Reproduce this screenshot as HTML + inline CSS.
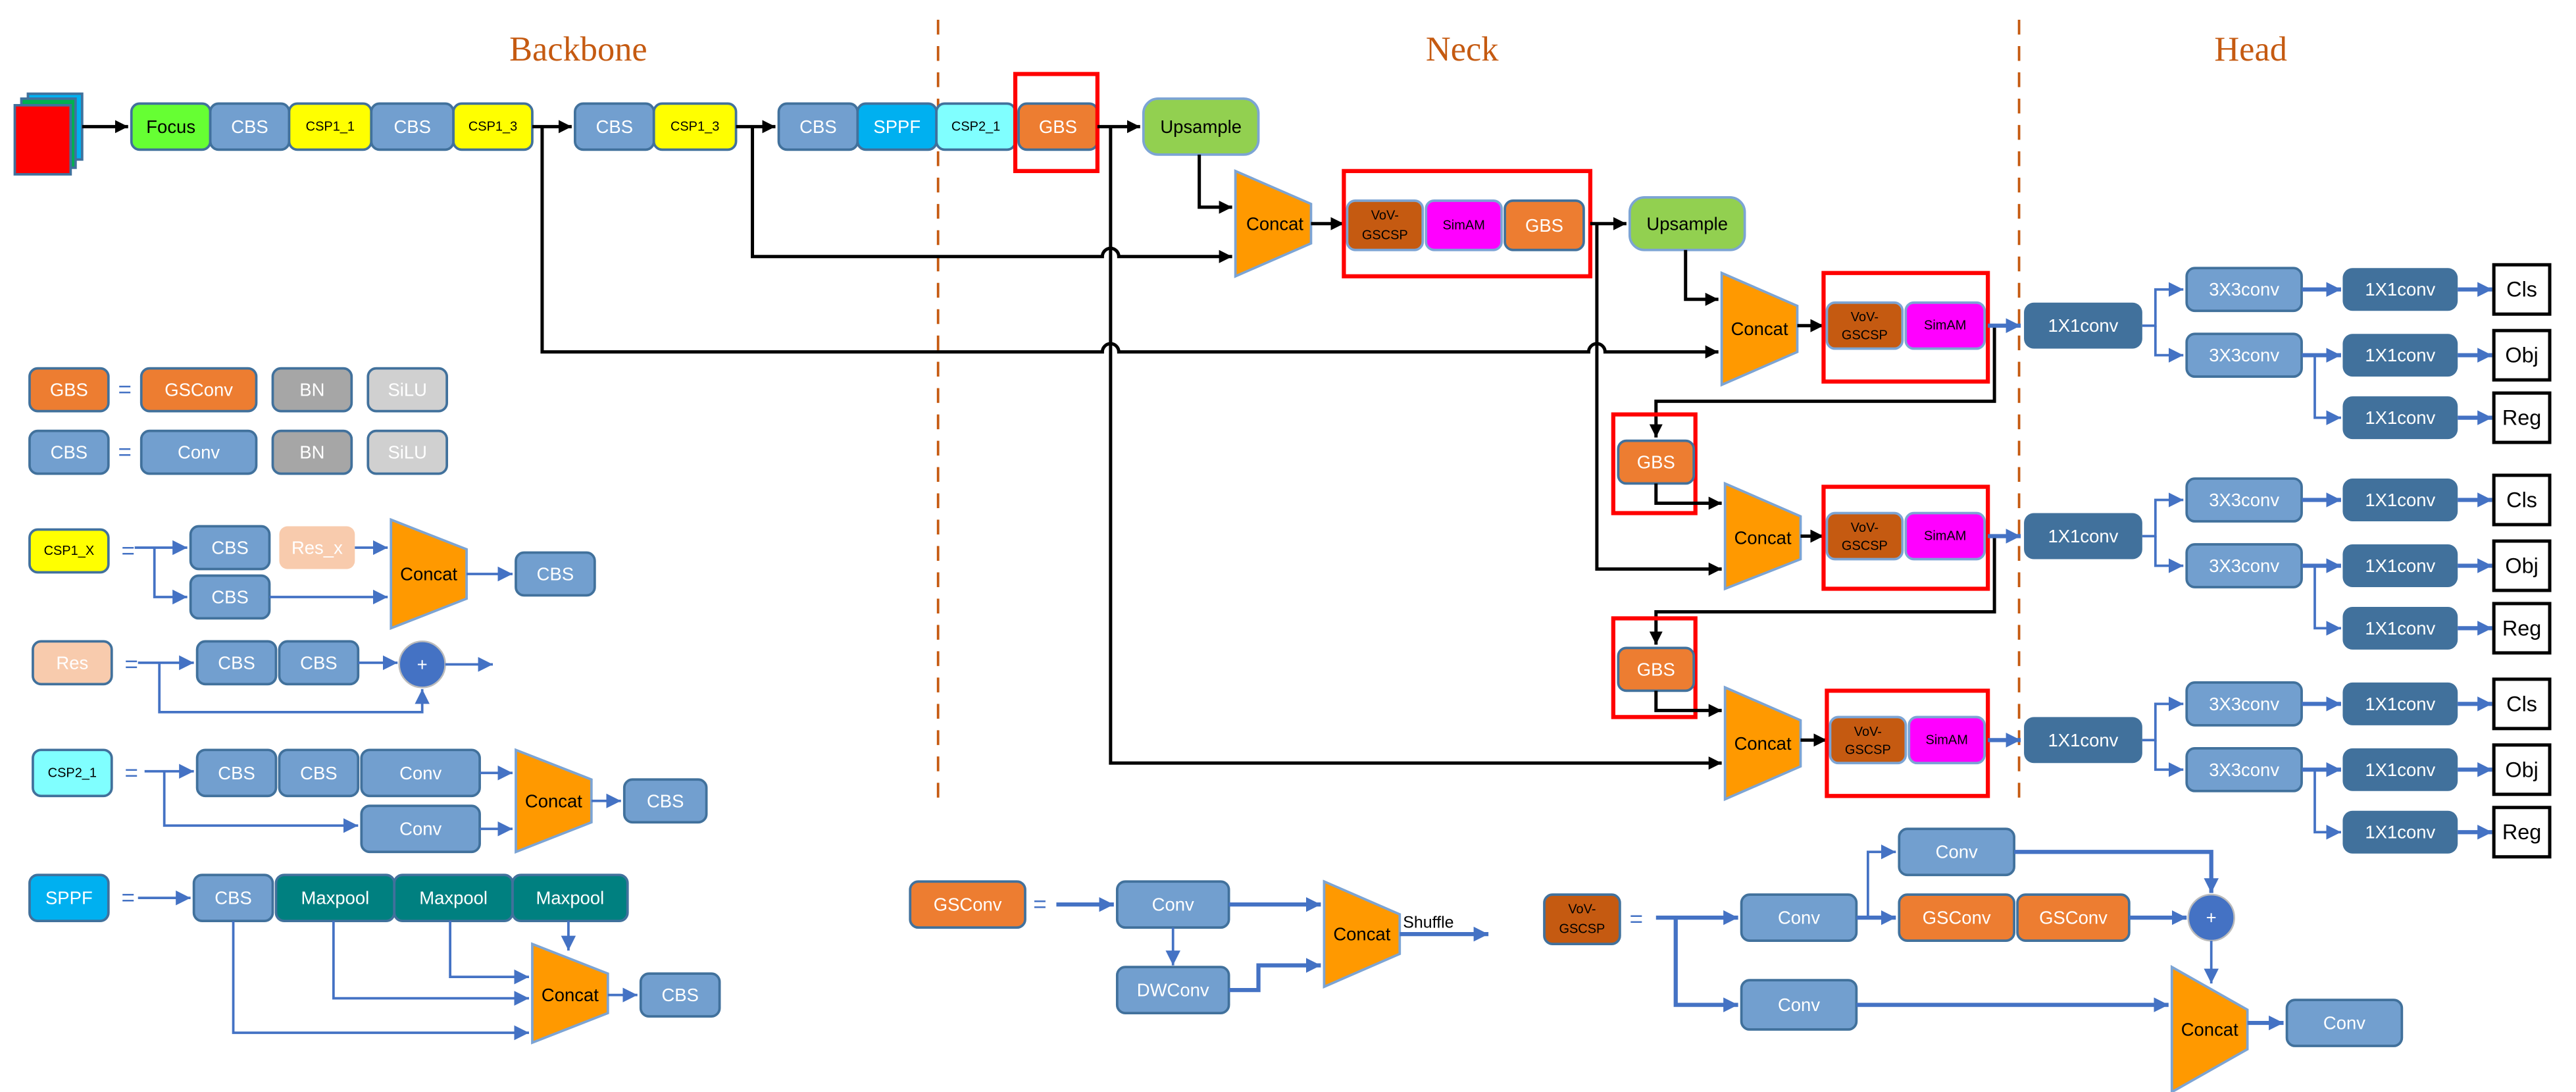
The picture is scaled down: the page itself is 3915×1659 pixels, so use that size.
<!DOCTYPE html>
<html><head><meta charset="utf-8"><style>
html,body{margin:0;padding:0;background:#fff;}
svg{display:block;}
text{font-family:"Liberation Sans Narrow","Liberation Sans",sans-serif;}
</style></head><body>
<svg width="3915" height="1659" viewBox="0 0 1568 664" preserveAspectRatio="none" xmlns="http://www.w3.org/2000/svg">
<defs>
<marker id="ak" viewBox="0 0 10 10" refX="10" refY="5" markerWidth="8" markerHeight="10" markerUnits="userSpaceOnUse" orient="auto"><path d="M0,0 L10,5 L0,10z" fill="#000"/></marker>
<marker id="ab" viewBox="0 0 10 10" refX="10" refY="5" markerWidth="9" markerHeight="10" markerUnits="userSpaceOnUse" orient="auto"><path d="M0,0 L10,5 L0,10z" fill="#4472C4"/></marker>
</defs>
<style>
.t{font-size:11px;text-anchor:middle;dominant-baseline:central;}
.w{fill:#fff}.k{fill:#000}
.s{font-size:8px}
.bk{stroke:#000;stroke-width:2;fill:none}
.bl{stroke:#4472C4;stroke-width:2.5;fill:none}
.bt{stroke:#4472C4;stroke-width:1.5;fill:none}
.red{fill:none;stroke:#f00;stroke-width:2.5}
.cc{fill:#FF9900;stroke:#7CA4D4;stroke-width:1.5}
</style>

<!-- titles & dashed lines -->
<text x="352" y="30" style="font-family:'Liberation Serif',serif;font-size:21px;fill:#C55A11;text-anchor:middle;dominant-baseline:central">Backbone</text>
<text x="890" y="30" style="font-family:'Liberation Serif',serif;font-size:21px;fill:#C55A11;text-anchor:middle;dominant-baseline:central">Neck</text>
<text x="1370" y="30" style="font-family:'Liberation Serif',serif;font-size:21px;fill:#C55A11;text-anchor:middle;dominant-baseline:central">Head</text>
<line x1="571" y1="12" x2="571" y2="492" stroke="#C55A11" stroke-width="1.5" stroke-dasharray="9,7"/>
<line x1="1229" y1="12" x2="1229" y2="492" stroke="#C55A11" stroke-width="1.5" stroke-dasharray="9,7"/>

<!-- input image -->
<rect x="17" y="57" width="33" height="40" fill="#00B0F0" stroke="#41719C" stroke-width="1.5"/>
<rect x="13" y="60" width="33" height="42" fill="#00B050" stroke="#41719C" stroke-width="1.5"/>
<rect x="9" y="64" width="34" height="42" fill="#f00" stroke="#41719C" stroke-width="1.5"/>
<line x1="50" y1="77" x2="78" y2="77" class="bk" marker-end="url(#ak)"/>

<!-- backbone row -->
<g stroke="#41719C" stroke-width="1.5">
<rect x="80" y="63" width="48" height="28" rx="5" fill="#66FF33"/>
<rect x="128" y="63" width="48" height="28" rx="5" fill="#729FCF"/>
<rect x="176" y="63" width="50" height="28" rx="5" fill="#FFFF00"/>
<rect x="226" y="63" width="50" height="28" rx="5" fill="#729FCF"/>
<rect x="276" y="63" width="48" height="28" rx="5" fill="#FFFF00"/>
<rect x="350" y="63" width="48" height="28" rx="5" fill="#729FCF"/>
<rect x="398" y="63" width="50" height="28" rx="5" fill="#FFFF00"/>
<rect x="474" y="63" width="48" height="28" rx="5" fill="#729FCF"/>
<rect x="522" y="63" width="48" height="28" rx="5" fill="#00B0F0"/>
<rect x="570" y="63" width="48" height="28" rx="5" fill="#80FFFF"/>
<rect x="620" y="63" width="48" height="28" rx="5" fill="#ED7D31"/>
</g>
<text x="104" y="77" class="t k">Focus</text>
<text x="152" y="77" class="t w">CBS</text>
<text x="201" y="77" class="t k s">CSP1_1</text>
<text x="251" y="77" class="t w">CBS</text>
<text x="300" y="77" class="t k s">CSP1_3</text>
<text x="374" y="77" class="t w">CBS</text>
<text x="423" y="77" class="t k s">CSP1_3</text>
<text x="498" y="77" class="t w">CBS</text>
<text x="546" y="77" class="t w">SPPF</text>
<text x="594" y="77" class="t k s">CSP2_1</text>
<text x="644" y="77" class="t w">GBS</text>
<rect x="618" y="45" width="50" height="59" class="red"/>
<line x1="324" y1="77" x2="348" y2="77" class="bk" marker-end="url(#ak)"/>
<line x1="448" y1="77" x2="472" y2="77" class="bk" marker-end="url(#ak)"/>
<line x1="668" y1="77" x2="694" y2="77" class="bk" marker-end="url(#ak)"/>
<rect x="696" y="60" width="70" height="34" rx="9" fill="#92D050" stroke="#7CA4D4" stroke-width="1.5"/>
<text x="731" y="77" class="t k">Upsample</text>

<!-- long connectors -->
<path d="M330,77 V214 H671 a5,5 0 0 1 10,0 H967 a5,5 0 0 1 10,0 H1046" class="bk" marker-end="url(#ak)"/>
<path d="M458,77 V156 H671 a5,5 0 0 1 10,0 H750" class="bk" marker-end="url(#ak)"/>
<path d="M676,77 V464 H1048" class="bk" marker-end="url(#ak)"/>
<path d="M730,94 V126 H750" class="bk" marker-end="url(#ak)"/>

<!-- Concat 1 -->
<polygon points="752,104 798,124 798,148 752,168" class="cc"/>
<text x="776" y="136" class="t k">Concat</text>
<line x1="798" y1="136" x2="818" y2="136" class="bk" marker-end="url(#ak)"/>
<rect x="818" y="104" width="150" height="64" class="red"/>
<g stroke-width="1.5">
<rect x="820" y="122" width="46" height="30" rx="5" fill="#C55A11" stroke="#7CA4D4"/>
<rect x="868" y="122" width="46" height="30" rx="5" fill="#FF00FF" stroke="#7CA4D4"/>
<rect x="916" y="122" width="48" height="30" rx="5" fill="#ED7D31" stroke="#41719C"/>
</g>
<text x="843" y="131" class="t k" style="font-size:8px">VoV-</text>
<text x="843" y="143" class="t k" style="font-size:8px">GSCSP</text>
<text x="891" y="137" class="t k" style="font-size:8px">SimAM</text>
<text x="940" y="137" class="t w">GBS</text>
<line x1="968" y1="136" x2="990" y2="136" class="bk" marker-end="url(#ak)"/>
<rect x="992" y="120" width="70" height="32" rx="9" fill="#92D050" stroke="#7CA4D4" stroke-width="1.5"/>
<text x="1027" y="136" class="t k">Upsample</text>
<path d="M1026,152 V182 H1046" class="bk" marker-end="url(#ak)"/>
<path d="M972,136 V346 H1048" class="bk" marker-end="url(#ak)"/>

<!-- Concat 2 -->
<polygon points="1048,166 1094,186 1094,214 1048,234" class="cc"/>
<text x="1071" y="200" class="t k">Concat</text>
<line x1="1094" y1="198" x2="1110" y2="198" class="bk" marker-end="url(#ak)"/>
<rect x="1110" y="166" width="100" height="66" class="red"/>
<rect x="1112" y="184" width="46" height="28" rx="5" fill="#C55A11" stroke="#7CA4D4" stroke-width="1.5"/>
<rect x="1160" y="184" width="48" height="28" rx="5" fill="#FF00FF" stroke="#7CA4D4" stroke-width="1.5"/>
<text x="1135" y="193" class="t k" style="font-size:8px">VoV-</text>
<text x="1135" y="204" class="t k" style="font-size:8px">GSCSP</text>
<text x="1184" y="198" class="t k" style="font-size:8px">SimAM</text>

<!-- GBS a -->
<path d="M1214,198 V244 H1008 V266" class="bk" marker-end="url(#ak)"/>
<rect x="982" y="252" width="50" height="60" class="red"/>
<rect x="985" y="268" width="46" height="26" rx="5" fill="#ED7D31" stroke="#41719C" stroke-width="1.5"/>
<text x="1008" y="281" class="t w">GBS</text>
<path d="M1008,294 V306 H1048" class="bk" marker-end="url(#ak)"/>

<!-- Concat 3 -->
<polygon points="1050,294 1096,314 1096,340 1050,358" class="cc"/>
<text x="1073" y="327" class="t k">Concat</text>
<line x1="1096" y1="326" x2="1110" y2="326" class="bk" marker-end="url(#ak)"/>
<rect x="1110" y="296" width="100" height="62" class="red"/>
<rect x="1112" y="312" width="46" height="28" rx="5" fill="#C55A11" stroke="#7CA4D4" stroke-width="1.5"/>
<rect x="1160" y="312" width="48" height="28" rx="5" fill="#FF00FF" stroke="#7CA4D4" stroke-width="1.5"/>
<text x="1135" y="321" class="t k" style="font-size:8px">VoV-</text>
<text x="1135" y="332" class="t k" style="font-size:8px">GSCSP</text>
<text x="1184" y="326" class="t k" style="font-size:8px">SimAM</text>

<!-- GBS b -->
<path d="M1214,326 V372 H1008 V392" class="bk" marker-end="url(#ak)"/>
<rect x="982" y="376" width="50" height="60" class="red"/>
<rect x="985" y="394" width="46" height="26" rx="5" fill="#ED7D31" stroke="#41719C" stroke-width="1.5"/>
<text x="1008" y="407" class="t w">GBS</text>
<path d="M1008,420 V432 H1048" class="bk" marker-end="url(#ak)"/>

<!-- Concat 4 -->
<polygon points="1050,418 1096,438 1096,466 1050,486" class="cc"/>
<text x="1073" y="452" class="t k">Concat</text>
<line x1="1096" y1="450" x2="1112" y2="450" class="bk" marker-end="url(#ak)"/>
<rect x="1112" y="420" width="98" height="64" class="red"/>
<rect x="1114" y="436" width="46" height="28" rx="5" fill="#C55A11" stroke="#7CA4D4" stroke-width="1.5"/>
<rect x="1162" y="436" width="46" height="28" rx="5" fill="#FF00FF" stroke="#7CA4D4" stroke-width="1.5"/>
<text x="1137" y="445" class="t k" style="font-size:8px">VoV-</text>
<text x="1137" y="456" class="t k" style="font-size:8px">GSCSP</text>
<text x="1185" y="450" class="t k" style="font-size:8px">SimAM</text>

<!-- Head groups -->
<g id="h1">
<line x1="1210" y1="198" x2="1230" y2="198" class="bl" marker-end="url(#ab)"/>
<rect x="1232" y="184" width="72" height="28" rx="6" fill="#41719C"/>
<text x="1268" y="198" class="t w">1X1conv</text>
<path d="M1304,198 H1312 V176 H1329" class="bt" marker-end="url(#ab)"/>
<path d="M1312,198 V216 H1329" class="bt" marker-end="url(#ab)"/>
<rect x="1331" y="163" width="70" height="26" rx="5" fill="#729FCF" stroke="#41719C" stroke-width="1.5"/>
<text x="1366" y="176" class="t w">3X3conv</text>
<rect x="1331" y="203" width="70" height="26" rx="5" fill="#729FCF" stroke="#41719C" stroke-width="1.5"/>
<text x="1366" y="216" class="t w">3X3conv</text>
<line x1="1401" y1="176" x2="1425" y2="176" class="bl" marker-end="url(#ab)"/>
<line x1="1401" y1="216" x2="1425" y2="216" class="bl" marker-end="url(#ab)"/>
<path d="M1409,216 V254 H1425" class="bt" marker-end="url(#ab)"/>
<rect x="1426" y="163" width="70" height="26" rx="6" fill="#41719C"/>
<text x="1461" y="176" class="t w">1X1conv</text>
<rect x="1426" y="203" width="70" height="26" rx="6" fill="#41719C"/>
<text x="1461" y="216" class="t w">1X1conv</text>
<rect x="1426" y="241" width="70" height="26" rx="6" fill="#41719C"/>
<text x="1461" y="254" class="t w">1X1conv</text>
<line x1="1496" y1="176" x2="1517" y2="176" class="bl" marker-end="url(#ab)"/>
<line x1="1496" y1="216" x2="1517" y2="216" class="bl" marker-end="url(#ab)"/>
<line x1="1496" y1="254" x2="1517" y2="254" class="bl" marker-end="url(#ab)"/>
<rect x="1518" y="161" width="34" height="30" fill="#fff" stroke="#000" stroke-width="2"/>
<text x="1535" y="176" class="t k" style="font-size:13px">Cls</text>
<rect x="1518" y="201" width="34" height="30" fill="#fff" stroke="#000" stroke-width="2"/>
<text x="1535" y="216" class="t k" style="font-size:13px">Obj</text>
<rect x="1518" y="239" width="34" height="30" fill="#fff" stroke="#000" stroke-width="2"/>
<text x="1535" y="254" class="t k" style="font-size:13px">Reg</text>
</g>
<use href="#h1" transform="translate(0,128)"/>
<use href="#h1" transform="translate(0,252)"/>

<!-- Legend -->
<g stroke="#41719C" stroke-width="1.5">
<rect x="18" y="224" width="48" height="26" rx="5" fill="#ED7D31"/>
<rect x="86" y="224" width="70" height="26" rx="5" fill="#ED7D31"/>
<rect x="166" y="224" width="48" height="26" rx="5" fill="#A6A6A6"/>
<rect x="224" y="224" width="48" height="26" rx="5" fill="#D0D0D0"/>
<rect x="18" y="262" width="48" height="26" rx="5" fill="#729FCF"/>
<rect x="86" y="262" width="70" height="26" rx="5" fill="#729FCF"/>
<rect x="166" y="262" width="48" height="26" rx="5" fill="#A6A6A6"/>
<rect x="224" y="262" width="48" height="26" rx="5" fill="#D0D0D0"/>
</g>
<text x="42" y="237" class="t w">GBS</text><text x="76" y="237" class="t" style="fill:#4472C4;font-size:14px">=</text>
<text x="121" y="237" class="t w">GSConv</text><text x="190" y="237" class="t w">BN</text><text x="248" y="237" class="t w">SiLU</text>
<text x="42" y="275" class="t w">CBS</text><text x="76" y="275" class="t" style="fill:#4472C4;font-size:14px">=</text>
<text x="121" y="275" class="t w">Conv</text><text x="190" y="275" class="t w">BN</text><text x="248" y="275" class="t w">SiLU</text>

<!-- CSP1_X -->
<rect x="18" y="322" width="48" height="26" rx="5" fill="#FFFF00" stroke="#41719C" stroke-width="1.5"/>
<text x="42" y="335" class="t k s">CSP1_X</text>
<text x="78" y="335" class="t" style="fill:#4472C4;font-size:14px">=</text>
<path d="M82,333 H114" class="bt" marker-end="url(#ab)"/>
<path d="M94,333 V363 H114" class="bt" marker-end="url(#ab)"/>
<rect x="116" y="320" width="48" height="26" rx="5" fill="#729FCF" stroke="#41719C" stroke-width="1.5"/>
<text x="140" y="333" class="t w">CBS</text>
<rect x="116" y="350" width="48" height="26" rx="5" fill="#729FCF" stroke="#41719C" stroke-width="1.5"/>
<text x="140" y="363" class="t w">CBS</text>
<rect x="170" y="320" width="46" height="26" rx="5" fill="#F8CBAD"/>
<text x="193" y="333" class="t w">Res_x</text>
<line x1="216" y1="333" x2="236" y2="333" class="bt" marker-end="url(#ab)"/>
<line x1="164" y1="363" x2="236" y2="363" class="bt" marker-end="url(#ab)"/>
<polygon points="238,316 284,334 284,364 238,382" class="cc"/>
<text x="261" y="349" class="t k">Concat</text>
<line x1="284" y1="349" x2="312" y2="349" class="bt" marker-end="url(#ab)"/>
<rect x="314" y="336" width="48" height="26" rx="5" fill="#729FCF" stroke="#41719C" stroke-width="1.5"/>
<text x="338" y="349" class="t w">CBS</text>

<!-- Res -->
<rect x="20" y="390" width="48" height="26" rx="5" fill="#F8CBAD" stroke="#41719C" stroke-width="1.5"/>
<text x="44" y="403" class="t w">Res</text>
<text x="80" y="404" class="t" style="fill:#4472C4;font-size:14px">=</text>
<path d="M84,403 H118" class="bt" marker-end="url(#ab)"/>
<path d="M97,403 V433 H257 V419" class="bt" marker-end="url(#ab)"/>
<rect x="120" y="390" width="48" height="26" rx="5" fill="#729FCF" stroke="#41719C" stroke-width="1.5"/>
<text x="144" y="403" class="t w">CBS</text>
<rect x="170" y="390" width="48" height="26" rx="5" fill="#729FCF" stroke="#41719C" stroke-width="1.5"/>
<text x="194" y="403" class="t w">CBS</text>
<line x1="218" y1="403" x2="242" y2="403" class="bt" marker-end="url(#ab)"/>
<circle cx="257" cy="404" r="14" fill="#4472C4" stroke="#bbb" stroke-width="1"/>
<text x="257" y="404" class="t w">+</text>
<line x1="271" y1="404" x2="300" y2="404" class="bt" marker-end="url(#ab)"/>

<!-- CSP2_1 -->
<rect x="20" y="456" width="48" height="28" rx="5" fill="#80FFFF" stroke="#41719C" stroke-width="1.5"/>
<text x="44" y="470" class="t k s">CSP2_1</text>
<text x="80" y="470" class="t" style="fill:#4472C4;font-size:14px">=</text>
<path d="M88,469 H118" class="bt" marker-end="url(#ab)"/>
<path d="M100,469 V502 H218" class="bt" marker-end="url(#ab)"/>
<g stroke="#41719C" stroke-width="1.5" fill="#729FCF">
<rect x="120" y="456" width="48" height="28" rx="5"/>
<rect x="170" y="456" width="48" height="28" rx="5"/>
<rect x="220" y="456" width="72" height="28" rx="5"/>
<rect x="220" y="490" width="72" height="28" rx="5"/>
<rect x="380" y="474" width="50" height="26" rx="5"/>
</g>
<text x="144" y="470" class="t w">CBS</text><text x="194" y="470" class="t w">CBS</text>
<text x="256" y="470" class="t w">Conv</text><text x="256" y="504" class="t w">Conv</text>
<text x="405" y="487" class="t w">CBS</text>
<line x1="292" y1="470" x2="312" y2="470" class="bt" marker-end="url(#ab)"/>
<line x1="292" y1="504" x2="312" y2="504" class="bt" marker-end="url(#ab)"/>
<polygon points="314,456 360,474 360,500 314,518" class="cc"/>
<text x="337" y="487" class="t k">Concat</text>
<line x1="360" y1="487" x2="378" y2="487" class="bt" marker-end="url(#ab)"/>

<!-- SPPF -->
<rect x="18" y="532" width="48" height="28" rx="5" fill="#00B0F0" stroke="#41719C" stroke-width="1.5"/>
<text x="42" y="546" class="t w">SPPF</text>
<text x="78" y="546" class="t" style="fill:#4472C4;font-size:14px">=</text>
<line x1="84" y1="546" x2="116" y2="546" class="bt" marker-end="url(#ab)"/>
<rect x="118" y="532" width="48" height="28" rx="5" fill="#729FCF" stroke="#41719C" stroke-width="1.5"/>
<text x="142" y="546" class="t w">CBS</text>
<g stroke="#41719C" stroke-width="1.5" fill="#008080">
<rect x="168" y="532" width="72" height="28" rx="5"/>
<rect x="240" y="532" width="72" height="28" rx="5"/>
<rect x="312" y="532" width="70" height="28" rx="5"/>
</g>
<text x="204" y="546" class="t w">Maxpool</text><text x="276" y="546" class="t w">Maxpool</text><text x="347" y="546" class="t w">Maxpool</text>
<path d="M142,560 V628 H322" class="bt" marker-end="url(#ab)"/>
<path d="M203,560 V607 H322" class="bt" marker-end="url(#ab)"/>
<path d="M274,560 V594 H322" class="bt" marker-end="url(#ab)"/>
<path d="M346,560 V578" class="bt" marker-end="url(#ab)"/>
<polygon points="324,574 370,592 370,616 324,634" class="cc"/>
<text x="347" y="605" class="t k">Concat</text>
<line x1="370" y1="605" x2="388" y2="605" class="bt" marker-end="url(#ab)"/>
<rect x="390" y="592" width="48" height="26" rx="5" fill="#729FCF" stroke="#41719C" stroke-width="1.5"/>
<text x="414" y="605" class="t w">CBS</text>

<!-- GSConv legend -->
<rect x="554" y="536" width="70" height="28" rx="5" fill="#ED7D31" stroke="#41719C" stroke-width="1.5"/>
<text x="589" y="550" class="t w">GSConv</text>
<text x="633" y="550" class="t" style="fill:#4472C4;font-size:14px">=</text>
<line x1="643" y1="550" x2="678" y2="550" class="bl" marker-end="url(#ab)"/>
<rect x="680" y="536" width="68" height="28" rx="5" fill="#729FCF" stroke="#41719C" stroke-width="1.5"/>
<text x="714" y="550" class="t w">Conv</text>
<rect x="680" y="588" width="68" height="28" rx="5" fill="#729FCF" stroke="#41719C" stroke-width="1.5"/>
<text x="714" y="602" class="t w">DWConv</text>
<line x1="714" y1="564" x2="714" y2="587" class="bt" marker-end="url(#ab)"/>
<line x1="748" y1="550" x2="804" y2="550" class="bl" marker-end="url(#ab)"/>
<path d="M748,602 H766 V587 H804" class="bl" marker-end="url(#ab)"/>
<polygon points="806,536 852,556 852,580 806,600" class="cc"/>
<text x="829" y="568" class="t k">Concat</text>
<text x="854" y="561" style="font-size:10px;dominant-baseline:central">Shuffle</text>
<line x1="852" y1="568" x2="906" y2="568" class="bl" marker-end="url(#ab)"/>

<!-- VoV-GSCSP legend -->
<rect x="940" y="544" width="46" height="30" rx="5" fill="#C55A11" stroke="#41719C" stroke-width="1.5"/>
<text x="963" y="553" class="t k" style="font-size:8px">VoV-</text>
<text x="963" y="565" class="t k" style="font-size:8px">GSCSP</text>
<text x="996" y="559" class="t" style="fill:#4472C4;font-size:14px">=</text>
<path d="M1008,558 H1058" class="bl" marker-end="url(#ab)"/>
<path d="M1020,558 V611 H1058" class="bl" marker-end="url(#ab)"/>
<g stroke="#41719C" stroke-width="1.5">
<rect x="1060" y="544" width="70" height="28" rx="5" fill="#729FCF"/>
<rect x="1156" y="504" width="70" height="28" rx="5" fill="#729FCF"/>
<rect x="1156" y="544" width="70" height="28" rx="5" fill="#ED7D31"/>
<rect x="1228" y="544" width="68" height="28" rx="5" fill="#ED7D31"/>
<rect x="1060" y="596" width="70" height="30" rx="5" fill="#729FCF"/>
<rect x="1392" y="608" width="70" height="28" rx="5" fill="#729FCF"/>
</g>
<text x="1095" y="558" class="t w">Conv</text>
<text x="1191" y="518" class="t w">Conv</text>
<text x="1191" y="558" class="t w">GSConv</text>
<text x="1262" y="558" class="t w">GSConv</text>
<text x="1095" y="611" class="t w">Conv</text>
<text x="1427" y="622" class="t w">Conv</text>
<path d="M1130,558 H1154" class="bl" marker-end="url(#ab)"/>
<path d="M1137,558 V518 H1154" class="bt" marker-end="url(#ab)"/>
<path d="M1226,518 H1346 V543" class="bl" marker-end="url(#ab)"/>
<line x1="1296" y1="558" x2="1331" y2="558" class="bl" marker-end="url(#ab)"/>
<circle cx="1346" cy="558" r="14" fill="#4472C4" stroke="#bbb" stroke-width="1"/>
<text x="1346" y="558" class="t w">+</text>
<line x1="1346" y1="572" x2="1346" y2="598" class="bt" marker-end="url(#ab)"/>
<line x1="1130" y1="611" x2="1320" y2="611" class="bl" marker-end="url(#ab)"/>
<polygon points="1322,588 1368,614 1368,638 1322,664" class="cc"/>
<text x="1345" y="626" class="t k">Concat</text>
<line x1="1368" y1="622" x2="1390" y2="622" class="bl" marker-end="url(#ab)"/>
</svg>
</body></html>
